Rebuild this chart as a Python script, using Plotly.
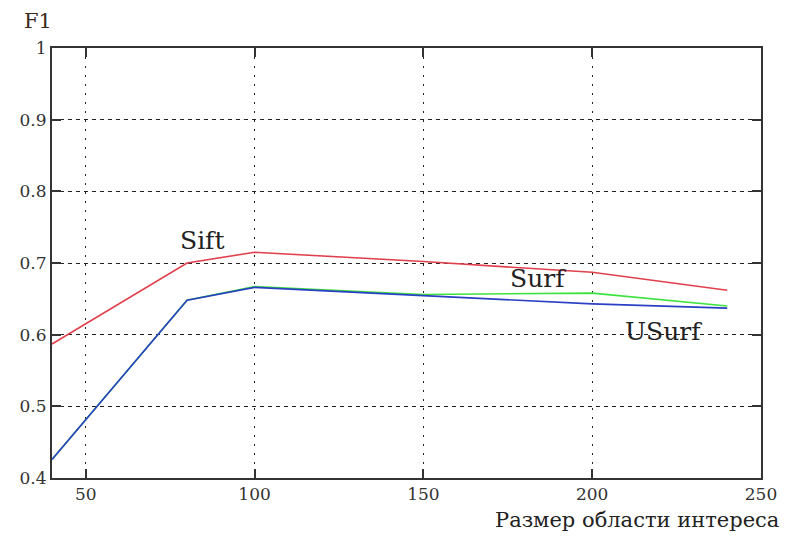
import plotly.graph_objects as go

x_vals = [40, 80, 100, 150, 200, 240]
sift = [0.587, 0.700, 0.715, 0.702, 0.687, 0.662]
surf = [0.426, 0.648, 0.667, 0.656, 0.658, 0.640]
usurf = [0.426, 0.648, 0.666, 0.655, 0.643, 0.637]

x_ticks = [50, 100, 150, 200, 250]
y_ticks = [0.4, 0.5, 0.6, 0.7, 0.8, 0.9, 1]

labels = [("Sift", 84.5, 0.731), ("Surf", 184, 0.678), ("USurf", 221, 0.604)]

font = "DejaVu Serif"

fig = go.Figure()
fig.add_trace(go.Scatter(x=x_vals, y=surf, mode="lines", line=dict(color="#3ee23e", width=1.6), name="Surf"))
fig.add_trace(go.Scatter(x=x_vals, y=usurf, mode="lines", line=dict(color="#2a3fc4", width=1.6), name="USurf"))
fig.add_trace(go.Scatter(x=x_vals, y=sift, mode="lines", line=dict(color="#e0404e", width=1.6), name="Sift"))

for text, lx, ly in labels:
    fig.add_annotation(x=lx, y=ly, text=text, showarrow=False, xanchor="center", yanchor="middle",
                       font=dict(family=font, size=25, color="#222"))

fig.add_annotation(xref="paper", yref="paper", x=1.028, y=-0.098, text="Размер области интереса",
                   showarrow=False, xanchor="right", yanchor="middle",
                   font=dict(family=font, size=21, color="#222"))
fig.add_annotation(xref="paper", yref="paper", x=-0.042, y=1.062, text="F1",
                   showarrow=False, xanchor="left", yanchor="middle",
                   font=dict(family=font, size=21, color="#3a2a1a"))

fig.update_layout(
    width=781, height=528,
    margin=dict(l=43, r=23, t=40, b=58),
    paper_bgcolor="white", plot_bgcolor="white",
    showlegend=False,
    font=dict(family=font, size=17, color="#333"),
)
fig.update_xaxes(range=[40, 250], tickvals=x_ticks, showgrid=True, gridcolor="#222", gridwidth=1.3,
                 griddash="2px,7px", showline=True, linecolor="#333", linewidth=2, mirror="ticks",
                 ticks="inside", ticklen=9, tickwidth=2, tickcolor="#333", zeroline=False)
fig.update_yaxes(range=[0.4, 1], tickvals=y_ticks, showgrid=True, gridcolor="#222", gridwidth=1.3,
                 griddash="4px,4px", showline=True, linecolor="#333", linewidth=2, mirror="ticks",
                 ticks="inside", ticklen=9, tickwidth=2, tickcolor="#333", zeroline=False)

fig.write_html("out.html")
